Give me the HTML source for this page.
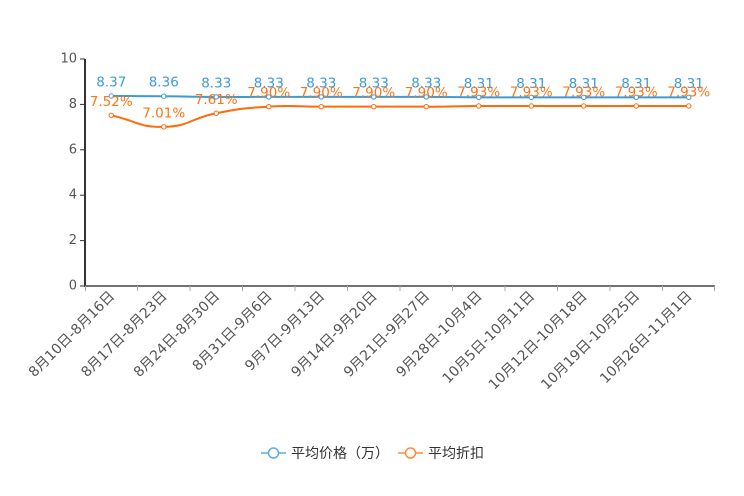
<!DOCTYPE html>
<html><head><meta charset="utf-8"><style>
html,body{margin:0;padding:0;background:#fff;}
svg{display:block;}
text{font-family:"DejaVu Sans","Liberation Sans","Noto Sans CJK SC",sans-serif;}
</style></head><body>
<svg width="744" height="496" viewBox="0 0 744 496" xmlns="http://www.w3.org/2000/svg">
<!-- y axis -->
<line x1="85" y1="59" x2="85" y2="287" stroke="#333" stroke-width="2"/>
<g stroke="#333" stroke-width="1">
<line x1="80" y1="286" x2="85" y2="286"/>
<line x1="80" y1="240.6" x2="85" y2="240.6"/>
<line x1="80" y1="195.2" x2="85" y2="195.2"/>
<line x1="80" y1="149.8" x2="85" y2="149.8"/>
<line x1="80" y1="104.4" x2="85" y2="104.4"/>
<line x1="80" y1="59" x2="85" y2="59"/>
</g>
<g fill="#555" font-size="13" text-anchor="end" dominant-baseline="central">
<text x="77" y="286">0</text>
<text x="77" y="240.6">2</text>
<text x="77" y="195.2">4</text>
<text x="77" y="149.8">6</text>
<text x="77" y="104.4">8</text>
<text x="77" y="59">10</text>
</g>
<!-- x axis -->
<line x1="84" y1="286" x2="715" y2="286" stroke="#444" stroke-width="1.5"/>
<g stroke="#aaa" stroke-width="1">
<line x1="85.5" y1="286" x2="85.5" y2="291"/>
<line x1="137.5" y1="286" x2="137.5" y2="291"/>
<line x1="190" y1="286" x2="190" y2="291"/>
<line x1="242.5" y1="286" x2="242.5" y2="291"/>
<line x1="295" y1="286" x2="295" y2="291"/>
<line x1="347.5" y1="286" x2="347.5" y2="291"/>
<line x1="400" y1="286" x2="400" y2="291"/>
<line x1="452.5" y1="286" x2="452.5" y2="291"/>
<line x1="505" y1="286" x2="505" y2="291"/>
<line x1="557.5" y1="286" x2="557.5" y2="291"/>
<line x1="610" y1="286" x2="610" y2="291"/>
<line x1="662.5" y1="286" x2="662.5" y2="291"/>
<line x1="714.5" y1="286" x2="714.5" y2="291"/>
</g>
<g fill="#555" font-size="14" text-anchor="end" dominant-baseline="central">
<text transform="translate(112.5,294) rotate(-45)">8月10日-8月16日</text>
<text transform="translate(165,294) rotate(-45)">8月17日-8月23日</text>
<text transform="translate(217.5,294) rotate(-45)">8月24日-8月30日</text>
<text transform="translate(270,294) rotate(-45)">8月31日-9月6日</text>
<text transform="translate(322.5,294) rotate(-45)">9月7日-9月13日</text>
<text transform="translate(375,294) rotate(-45)">9月14日-9月20日</text>
<text transform="translate(427.5,294) rotate(-45)">9月21日-9月27日</text>
<text transform="translate(480,294) rotate(-45)">9月28日-10月4日</text>
<text transform="translate(532.5,294) rotate(-45)">10月5日-10月11日</text>
<text transform="translate(585,294) rotate(-45)">10月12日-10月18日</text>
<text transform="translate(637.5,294) rotate(-45)">10月19日-10月25日</text>
<text transform="translate(690,294) rotate(-45)">10月26日-11月1日</text>
</g>
<!-- blue series -->
<path d="M111.25,96 C137.5,96.12 137.5,96 163.75,96.23 C190,96.46 190,96.74 216.25,96.91 C242.5,97.08 242.5,96.91 268.75,96.91 L426.25,96.91 C452.5,96.91 452.5,97.19 478.75,97.36 L688.75,97.36" fill="none" stroke="#3d9bd6" stroke-width="2"/>
<!-- orange series -->
<path d="M111.25,115.3 C137.5,121.09 137.5,127.38 163.75,126.87 C190,126.36 190,118.3 216.25,113.25 C242.5,108.2 242.5,108.32 268.75,106.67 C295,105.03 295,106.67 321.25,106.67 L426.25,106.67 C452.5,106.84 452.5,106.16 478.75,105.99 L688.75,105.99" fill="none" stroke="#ff6a0a" stroke-width="2"/>
<g fill="#fff" stroke="#3d9bd6" stroke-width="1">
<circle cx="111.25" cy="96" r="2.2"/><circle cx="163.75" cy="96.23" r="2.2"/><circle cx="216.25" cy="96.91" r="2.2"/><circle cx="268.75" cy="96.91" r="2.2"/><circle cx="321.25" cy="96.91" r="2.2"/><circle cx="373.75" cy="96.91" r="2.2"/><circle cx="426.25" cy="96.91" r="2.2"/><circle cx="478.75" cy="97.36" r="2.2"/><circle cx="531.25" cy="97.36" r="2.2"/><circle cx="583.75" cy="97.36" r="2.2"/><circle cx="636.25" cy="97.36" r="2.2"/><circle cx="688.75" cy="97.36" r="2.2"/>
</g>
<g fill="#fff" stroke="#ff6a0a" stroke-width="1">
<circle cx="111.25" cy="115.3" r="2.2"/><circle cx="163.75" cy="126.87" r="2.2"/><circle cx="216.25" cy="113.25" r="2.2"/><circle cx="268.75" cy="106.67" r="2.2"/><circle cx="321.25" cy="106.67" r="2.2"/><circle cx="373.75" cy="106.67" r="2.2"/><circle cx="426.25" cy="106.67" r="2.2"/><circle cx="478.75" cy="105.99" r="2.2"/><circle cx="531.25" cy="105.99" r="2.2"/><circle cx="583.75" cy="105.99" r="2.2"/><circle cx="636.25" cy="105.99" r="2.2"/><circle cx="688.75" cy="105.99" r="2.2"/>
</g>
<g fill="#3d9bd6" font-size="13.5" text-anchor="middle" dominant-baseline="central">
<text x="111.25" y="82.5">8.37</text>
<text x="163.75" y="82.7">8.36</text>
<text x="216.25" y="83.4">8.33</text>
<text x="268.75" y="83.4">8.33</text>
<text x="321.25" y="83.4">8.33</text>
<text x="373.75" y="83.4">8.33</text>
<text x="426.25" y="83.4">8.33</text>
<text x="478.75" y="83.9">8.31</text>
<text x="531.25" y="83.9">8.31</text>
<text x="583.75" y="83.9">8.31</text>
<text x="636.25" y="83.9">8.31</text>
<text x="688.75" y="83.9">8.31</text>
</g>
<g fill="#ff7417" font-size="13.5" text-anchor="middle" dominant-baseline="central">
<text x="111.25" y="101.8">7.52%</text>
<text x="163.75" y="113.4">7.01%</text>
<text x="216.25" y="99.8">7.61%</text>
<text x="268.75" y="93.2">7.90%</text>
<text x="321.25" y="93.2">7.90%</text>
<text x="373.75" y="93.2">7.90%</text>
<text x="426.25" y="93.2">7.90%</text>
<text x="478.75" y="92.5">7.93%</text>
<text x="531.25" y="92.5">7.93%</text>
<text x="583.75" y="92.5">7.93%</text>
<text x="636.25" y="92.5">7.93%</text>
<text x="688.75" y="92.5">7.93%</text>
</g>
<!-- legend -->
<line x1="261" y1="453" x2="286" y2="453" stroke="#5aaee0" stroke-width="1.5"/>
<circle cx="273.5" cy="453" r="5" fill="#fff" stroke="#5aaee0" stroke-width="1.5"/>
<text x="291" y="453" font-size="14" fill="#333" dominant-baseline="central" style='font-family:"Noto Sans CJK SC",sans-serif'>平均价格（万）</text>
<line x1="398" y1="453" x2="423" y2="453" stroke="#ff8a3d" stroke-width="1.5"/>
<circle cx="410.5" cy="453" r="5" fill="#fff" stroke="#ff8a3d" stroke-width="1.5"/>
<text x="428" y="453" font-size="14" fill="#333" dominant-baseline="central" style='font-family:"Noto Sans CJK SC",sans-serif'>平均折扣</text>
</svg>
</body></html>
